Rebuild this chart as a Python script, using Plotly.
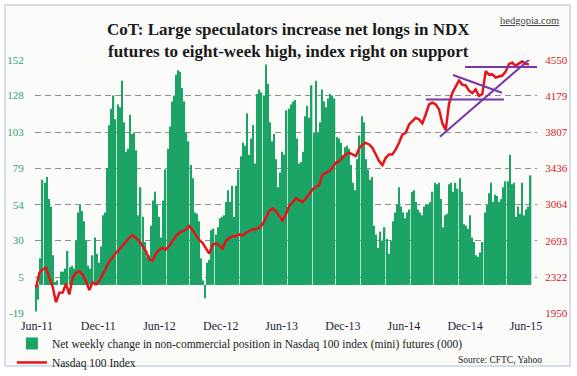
import plotly.graph_objects as go
import pandas as pd

# ---------------- data ----------------
net_change = [
    -18, -10, 18, 71, 69, 73, 58, 53, 20, 2, 3, 0, 9, 9, 11, 23, 12, 13, 11, 30,
    49, 54, 50, 43, 30, 13, 11, 20, 32, 21, 15, 26, 47, 49, 79, 108, 119, 128, 112, 122,
    120, 138, 110, 90,
    92, 115, 102, 103, 91, 47, 66, 46, 29, 19, 20, 40, 57, 63, 54, 46, 32, 57, 78, 92,
    107, 124, 128, 142, 145, 144, 133, 124, 103, 97, 81, 72, 49, 48, 43, 18, 3, -9, 15, 17,
    37, 38, 34, 39, 45, 46,
    47, 56, 64, 56, 67, 46, 67, 78, 87, 96, 94, 116, 88, 99, 108, 82, 129, 132, 130, 128,
    149, 136, 110, 97, 102, 85, 66, 76, 90, 88, 118, 119, 122, 124, 125, 99, 82, 83, 90, 114,
    121, 113, 135, 103, 138, 103, 110, 132, 124,
    120, 126, 129, 128, 126, 100, 99, 96, 88, 93, 94, 92, 81, 69, 64, 85, 101, 114, 110, 85,
    78, 71, 73, 40, 34, 25, 36, 30, 39, 31, 21, 30, 43, 49, 54, 66, 53, 49, 45, 49,
    51, 63, 64, 56, 51, 49, 47, 53, 54, 54,
    56, 63, 69, 68, 69, 58, 39, 47, 48, 68, 69, 63, 69, 65, 72, 63, 41, 40, 38, 47,
    32, 29, 20, 19, 22, 29, 49, 54, 62, 69, 56, 61, 60, 56, 58, 66, 70, 70, 88, 68,
    69, 46, 53, 48, 69, 47, 51, 53, 74,
]

ndx = [
    2210, 2363, 2397, 2414, 2312, 2220, 2060, 2158, 2160, 2250, 2141, 2312, 2363, 2380, 2346,
    2278, 2185, 2265, 2243, 2278, 2346, 2414, 2480, 2520, 2569, 2600, 2640, 2690, 2725, 2750,
    2723, 2690, 2638, 2586, 2500, 2490, 2560, 2600, 2620, 2603, 2638, 2690, 2740, 2775, 2792,
    2809, 2843, 2805, 2750, 2700, 2672, 2620, 2560, 2650, 2665, 2645, 2610, 2690, 2723, 2740,
    2740, 2757, 2745, 2775, 2792, 2809, 2812, 2826, 2860, 2928, 2997, 3025, 3000, 2950, 2900,
    2963, 3048, 3085, 3130, 3110, 3090, 3125, 3175, 3220, 3245, 3265, 3374, 3391, 3408, 3442,
    3494, 3511, 3545, 3580, 3597, 3580, 3562, 3640, 3682, 3699, 3682, 3648, 3580, 3511, 3470,
    3545, 3580, 3580, 3631, 3699, 3785, 3802, 3888, 3922, 3956, 3939, 3900, 3990, 4094, 4111,
    4094, 4042, 3900, 3830, 4100, 4213, 4270, 4340, 4295, 4290, 4235, 4210, 4247, 4180, 4200,
    4436, 4400, 4402, 4370, 4380, 4390, 4430, 4510, 4522, 4490, 4515, 4535, 4510, 4505,
]

bar_start, bar_end = "2011-05-30", "2015-06-15"
line_start, line_end = "2011-05-29", "2015-06-10"

# purple trend lines drawn on the index (dates, index level)
top_band_dates = ["2014-12-01", "2015-07-04"]
top_band_vals = [4478, 4478]
mid_band_dates = ["2014-08-06", "2015-03-27"]
mid_band_vals = [4143, 4143]
down_line_dates = ["2014-10-26", "2015-03-21"]
down_line_vals = [4396, 4214]
up_line_dates = ["2014-09-17", "2015-06-15"]
up_line_vals = [3762, 4567]

left_ticks = [-19, 5, 30, 54, 79, 103, 128, 152]
right_ticks = [1950, 2322, 2693, 3064, 3436, 3807, 4179, 4550]

title_lines = ["CoT: Large speculators increase net longs in NDX",
               "futures to eight-week high, index right on support"]

bar_dates = pd.date_range(bar_start, bar_end, periods=len(net_change))
line_dates = pd.date_range(line_start, line_end, periods=len(ndx))

SERIF = "Liberation Serif, Times New Roman, serif"
GREEN = "#1ba466"
RED = "#e5141b"
PURPLE = "#7a35a8"

fig = go.Figure()
fig.add_trace(go.Bar(
    x=bar_dates, y=net_change, marker=dict(color=GREEN, line=dict(width=0)),
    name="Net weekly change in non-commercial position in Nasdaq 100 index (mini) futures (000)",
    yaxis="y",
))
fig.add_trace(go.Scatter(
    x=line_dates, y=ndx, mode="lines", line=dict(color=RED, width=2.5),
    name="Nasdaq 100 Index", yaxis="y2",
))
for d, v in [(top_band_dates, top_band_vals), (mid_band_dates, mid_band_vals),
             (down_line_dates, down_line_vals), (up_line_dates, up_line_vals)]:
    fig.add_trace(go.Scatter(x=d, y=v, mode="lines", line=dict(color=PURPLE, width=2),
                             showlegend=False, yaxis="y2", hoverinfo="skip"))

title_font = dict(family=SERIF, size=17, color="#1a1a1a")

fig.update_layout(
    width=577, height=376,
    margin=dict(l=35, r=40, t=60, b=63, autoexpand=False),
    paper_bgcolor="white",
    plot_bgcolor="#fdfdf4",
    bargap=0.35,
    font=dict(family=SERIF, color="#222"),
    xaxis=dict(
        type="date", range=["2011-05-26", "2015-07-04"],
        tickformat="%b-%y", dtick="M6", tick0="2011-06-01",
        showgrid=False, showline=False, zeroline=False,
        ticks="outside", ticklen=2, tickcolor="rgba(0,0,0,0)",
        tickfont=dict(family=SERIF, size=12, color="#1c1c3a"),
    ),
    yaxis=dict(
        range=[-19, 152], tickvals=left_ticks, ticktext=[str(t) for t in left_ticks],
        showgrid=True, gridcolor="#8f8f8f", griddash="6px,4px", gridwidth=1,
        zeroline=False, showline=False,
        ticks="outside", ticklen=8, tickcolor="rgba(0,0,0,0)",
        tickfont=dict(family=SERIF, size=11, color="#2fa56c"),
    ),
    yaxis2=dict(
        range=[1950, 4550], tickvals=right_ticks, ticktext=[str(t) for t in right_ticks],
        overlaying="y", side="right", showgrid=False, zeroline=False, showline=False,
        ticks="outside", ticklen=5, tickcolor="rgba(0,0,0,0)",
        tickfont=dict(family=SERIF, size=11, color="#d42027"),
    ),
    legend=dict(
        x=-0.046, xanchor="left", y=-0.063, yanchor="top",
        bgcolor="rgba(0,0,0,0)", font=dict(family=SERIF, size=11.5, color="#1a1a1a"),
        tracegroupgap=0, itemwidth=30,
    ),
    shapes=[dict(
        type="rect", xref="paper", yref="paper",
        x0=-0.0598, x1=1.0657, y0=-0.2095, y1=1.2174,
        line=dict(color="#c9d5e2", width=1.5), fillcolor="#fbfbf9", layer="below",
    )],
    annotations=[
        dict(text="<b>%s<br>%s</b>" % (title_lines[0], title_lines[1]),
             xref="paper", yref="paper", x=0.5045, y=1.079,
             xanchor="center", yanchor="middle", align="center",
             showarrow=False, font=title_font),
        dict(text="<u>hedgopia.com</u>", xref="paper", yref="paper", x=1.048, y=1.158,
             xanchor="right", yanchor="middle",
             showarrow=False, font=dict(family=SERIF, size=10.5, color="#444")),
        dict(text="Source: CFTC, Yahoo", xref="paper", yref="paper", x=1.014, y=-0.186,
             xanchor="right", yanchor="middle", showarrow=False,
             font=dict(family=SERIF, size=9.5, color="#222")),
    ],
)

fig.write_html("out.html", config={"displayModeBar": False},
               post_script="document.body.style.margin='0';")
